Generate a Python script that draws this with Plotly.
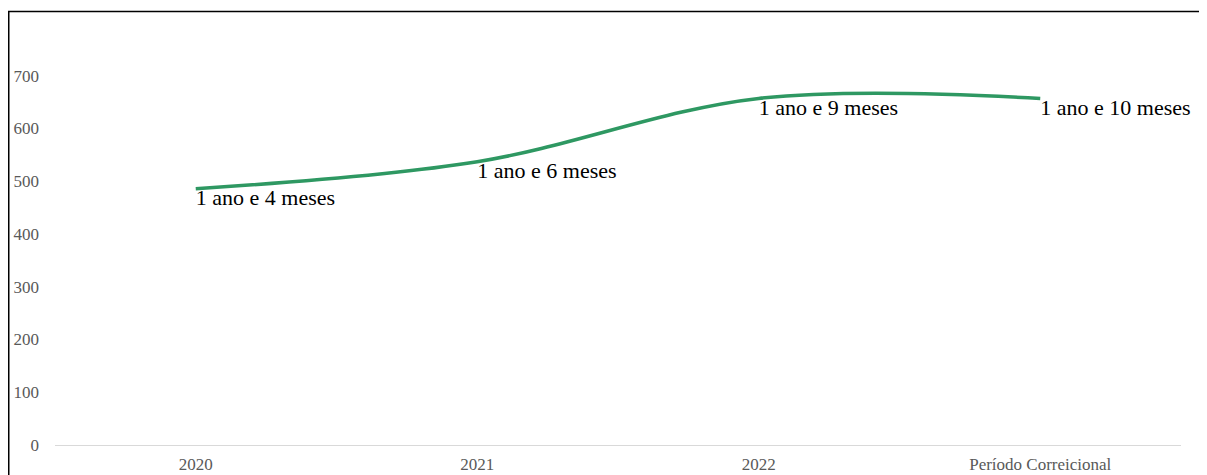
import plotly.graph_objects as go

categories = ["2020", "2021", "2022", "Período Correicional"]
values = [486, 537, 657, 657]
labels = ["1 ano e 4 meses", "1 ano e 6 meses", "1 ano e 9 meses", "1 ano e 10 meses"]
y_ticks = [0, 100, 200, 300, 400, 500, 600, 700]

# page body has an 8px margin; figure coordinates are offset by it
W, H = 1199, 467
L, R, T, B = 47, 26, 15, 30
pw = W - L - R
ph = H - T - B

fig = go.Figure()
fig.add_trace(go.Scatter(
    x=categories, y=values,
    mode="lines+text",
    line=dict(color="#2E9862", width=3.5, shape="spline", smoothing=1.0),
    text=labels,
    textposition="bottom right",
    textfont=dict(family="Liberation Serif", size=22, color="#000000"),
    cliponaxis=False,
    hoverinfo="skip",
    showlegend=False,
))

def px_to_paper_x(px):
    return (px - L) / pw

def py_to_paper_y(py):
    return (H - B - py) / ph

fig.add_shape(
    type="rect", xref="paper", yref="paper",
    x0=px_to_paper_x(0.75), x1=px_to_paper_x(1192.5),
    y0=py_to_paper_y(490), y1=py_to_paper_y(3.5),
    line=dict(color="#000000", width=1.5), fillcolor="rgba(0,0,0,0)",
    layer="above",
)

fig.update_layout(
    width=W, height=H,
    margin=dict(l=L, r=R, t=T, b=B, pad=0, autoexpand=False),
    paper_bgcolor="white", plot_bgcolor="white",
    showlegend=False,
    xaxis=dict(
        type="category",
        range=[-0.5, len(categories) - 0.5],
        showgrid=False, zeroline=False,
        showline=True, linecolor="#D9D9D9", linewidth=1,
        ticks="",
        automargin=False,
        tickfont=dict(family="Liberation Serif", size=17, color="#595959"),
        ticklabelstandoff=4,
    ),
    yaxis=dict(
        range=[0, 800],
        tickvals=y_ticks,
        ticktext=[str(v) for v in y_ticks],
        showgrid=False, zeroline=False, showline=False,
        ticks="",
        automargin=False,
        tickfont=dict(family="Liberation Serif", size=17, color="#595959"),
        ticklabelstandoff=15,
    ),
)

fig.write_html("out.html")
